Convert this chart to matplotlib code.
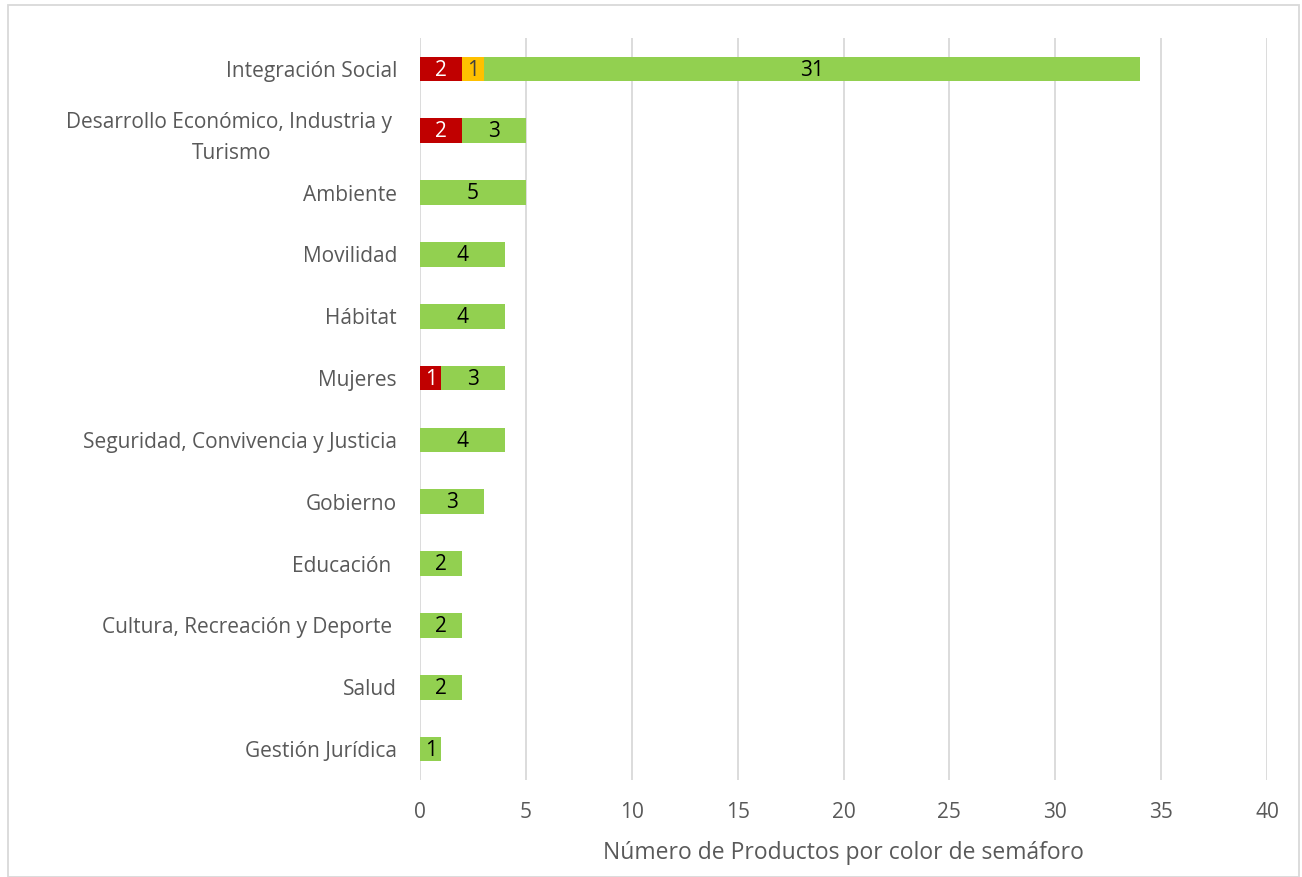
import matplotlib
matplotlib.use('Agg')
import matplotlib.pyplot as plt
from matplotlib.patches import Rectangle
import numpy as np

plt.rcParams['font.family'] = ['Open Sans', 'DejaVu Sans']

# categories top to bottom
categories = ['Integración Social',
              'Desarrollo Económico, Industria y \nTurismo',
              'Ambiente', 'Movilidad', 'Hábitat', 'Mujeres',
              'Seguridad, Convivencia y Justicia', 'Gobierno',
              'Educación ', 'Cultura, Recreación y Deporte ',
              'Salud', 'Gestión Jurídica']
rojo = [2, 2, 0, 0, 0, 1, 0, 0, 0, 0, 0, 0]
amarillo = [1, 0, 0, 0, 0, 0, 0, 0, 0, 0, 0, 0]
verde = [31, 3, 5, 4, 4, 3, 4, 3, 2, 2, 2, 1]
xticks = [0, 5, 10, 15, 20, 25, 30, 35, 40]

text_color = '#595959'

fig = plt.figure(figsize=(13.02, 8.77), dpi=100)
ax = fig.add_axes([0.3226, 0.1106, 0.6505, 0.8461])

y = np.arange(len(categories))
rojo = np.array(rojo)
amarillo = np.array(amarillo)
verde = np.array(verde)

series = [(rojo, '#C00000', 'white'),
          (amarillo, '#FFC000', '#404040'),
          (verde, '#92D050', 'black')]
left = np.zeros(len(categories))
for vals, col, lab_col in series:
    ax.barh(y, vals, left=left, height=0.4, color=col, zorder=3)
    for yi, (l, v) in enumerate(zip(left, vals)):
        if v > 0:
            ax.text(l + v / 2, yi + 0.02, str(v), ha='center', va='center',
                    fontsize=15, color=lab_col, zorder=4)
    left = left + vals

ax.set_ylim(len(categories) - 0.5, -0.5)
ax.set_xlim(0, 40)
ax.set_xticks(xticks)
ax.set_yticks(y)
ax.set_yticklabels(categories, fontsize=15, color=text_color,
                   multialignment='center', linespacing=1.6)
ax.tick_params(axis='x', labelsize=15, colors=text_color, length=0, pad=16)
ax.tick_params(axis='y', length=0, pad=16.5)
ax.grid(axis='x', color='#D9D9D9', linewidth=1.3, zorder=0)
for s in ax.spines.values():
    s.set_visible(False)
ax.set_xlabel('Número de Productos por color de semáforo', fontsize=16.5,
              color=text_color, labelpad=13)

# chart border
fig.patches.append(Rectangle((0.006, 0.0), 0.992, 0.994, transform=fig.transFigure,
                             fill=False, edgecolor='#D9D9D9', linewidth=1.3))

fig.savefig('out.png', dpi=100)
